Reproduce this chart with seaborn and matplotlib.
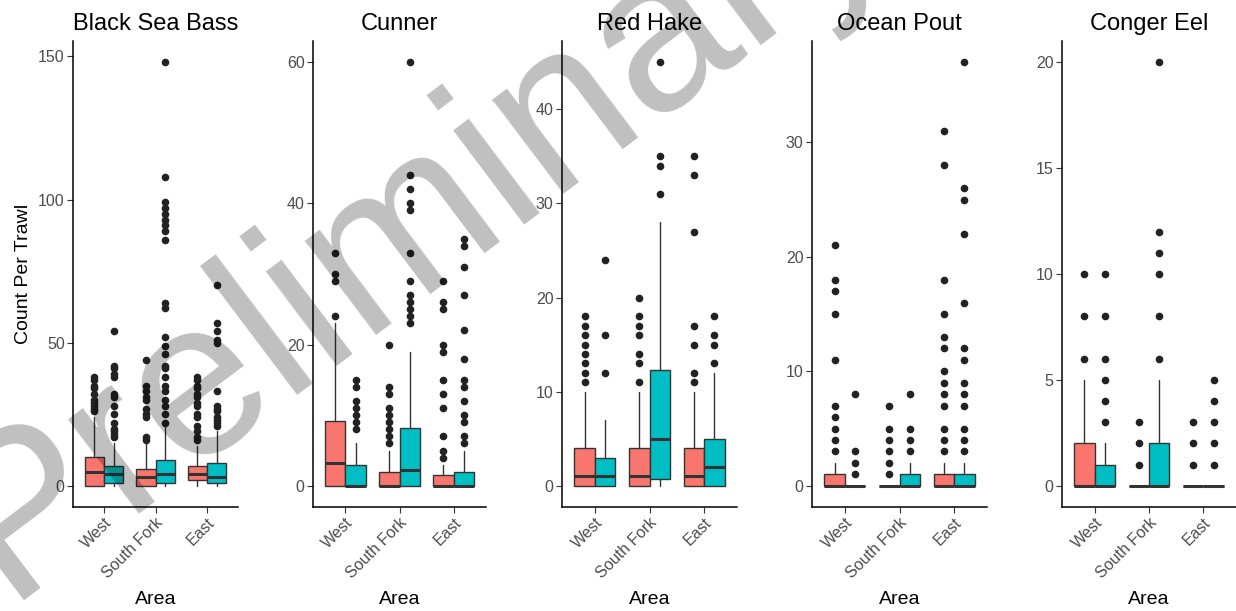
import matplotlib
matplotlib.use("Agg")
import matplotlib.pyplot as plt
import seaborn as sns

# ── Data (box stats; order per species:
#    West/red, West/teal, South Fork/red, South Fork/teal, East/red, East/teal)
AREAS = ["West", "South Fork", "East"]
SPECIES = ["Black Sea Bass", "Cunner", "Red Hake", "Ocean Pout", "Conger Eel"]

bsb_q1 = [0, 1, 0, 1, 2, 1]
bsb_med = [5, 4, 3, 4, 4, 3]
bsb_q3 = [10, 7, 6, 9, 7, 8]
bsb_whi = [24, 15, 15, 21, 14, 19]
bsb_fliers = [
    [26, 27, 28, 29, 30, 32, 34, 35, 37, 38],
    [17, 18, 19, 20, 22, 25, 28, 31, 32, 38, 39, 41, 42, 54],
    [16, 17, 24, 25, 27, 30, 31, 33, 35, 44],
    [22, 25, 28, 30, 33, 35, 38, 41, 42, 46, 49, 52, 62, 64,
     86, 89, 91, 93, 95, 97, 99, 108, 148],
    [16, 17, 19, 21, 24, 25, 28, 29, 31, 32, 34, 35, 37, 38],
    [21, 22, 23, 24, 26, 27, 28, 33, 50, 51, 54, 57, 70],
]

cun_q1 = [0, 0, 0, 0, 0, 0]
cun_med = [3.3, 0, 0, 2.2, 0, 0]
cun_q3 = [9.25, 3, 2, 8.2, 1.5, 2]
cun_whi = [23, 6, 5, 19, 3, 5]
cun_fliers = [
    [24, 29, 30, 33],
    [8, 9, 10, 11, 12, 14, 15],
    [6, 7, 8, 9, 10, 11, 13, 14, 20],
    [23, 24, 25, 26, 27, 29, 33, 39, 40, 42, 44, 60],
    [4, 5, 7, 11, 13, 15, 19, 20, 25, 26, 29],
    [6, 7, 9, 10, 12, 14, 15, 18, 22, 27, 31, 34, 35],
]

rh_q1 = [0, 0, 0, 0.75, 0, 0]
rh_med = [1, 1, 1, 5, 1, 2]
rh_q3 = [4, 3, 4, 12.25, 4, 5]
rh_whi = [10, 7, 10, 28, 10, 12]
rh_fliers = [
    [11, 12, 13, 14, 15, 16, 17, 18],
    [12, 16, 24],
    [11, 13, 14, 16, 17, 18, 20],
    [31, 34, 35, 45],
    [11, 12, 15, 17, 27, 33, 35],
    [13, 15, 16, 18],
]

op_q1 = [0, 0, 0, 0, 0, 0]
op_med = [0, 0, 0, 0, 0, 0]
op_q3 = [1, 0, 0, 1, 1, 1]
op_whi = [2, 0, 0, 2, 2, 2]
op_fliers = [
    [3, 4, 5, 6, 7, 11, 15, 17, 18, 21],
    [1, 2, 3, 8],
    [1, 2, 3, 4, 5, 7],
    [3, 4, 5, 8],
    [3, 4, 5, 7, 8, 9, 10, 12, 13, 15, 18, 28, 31],
    [3, 4, 5, 7, 8, 9, 11, 12, 16, 22, 25, 26, 37],
]

ce_q1 = [0, 0, 0, 0, 0, 0]
ce_med = [0, 0, 0, 0, 0, 0]
ce_q3 = [2, 1, 0, 2, 0, 0]
ce_whi = [5, 2, 0, 5, 0, 0]
ce_fliers = [
    [6, 8, 10],
    [3, 4, 5, 6, 8, 10],
    [1, 2, 3],
    [6, 8, 10, 11, 12, 20],
    [1, 2, 3],
    [1, 2, 3, 4, 5],
]

Y_TICKS = [
    [0, 50, 100, 150],
    [0, 20, 40, 60],
    [0, 10, 20, 30, 40],
    [0, 10, 20, 30],
    [0, 5, 10, 15, 20],
]

# axes extents in pixels (left, right) for a 1236x611 canvas
PANEL_X = [(73, 238), (313, 486), (562, 737), (812, 987), (1062, 1236)]
PANEL_TOP, PANEL_BOTTOM = 41, 507

W, H = 1236, 611
sns.set_theme(style="ticks")
plt.rcParams["font.family"] = ["Liberation Sans", "DejaVu Sans"]
colors = sns.color_palette(["#F8766D", "#00BFC4"])
EDGE = "#333333"

fig = plt.figure(figsize=(W / 100, H / 100), dpi=100)

panels = [
    (bsb_q1, bsb_med, bsb_q3, bsb_whi, bsb_fliers),
    (cun_q1, cun_med, cun_q3, cun_whi, cun_fliers),
    (rh_q1, rh_med, rh_q3, rh_whi, rh_fliers),
    (op_q1, op_med, op_q3, op_whi, op_fliers),
    (ce_q1, ce_med, ce_q3, ce_whi, ce_fliers),
]

dodge = 0.1875
box_w = 0.375

for k, (name, (q1, med, q3, whi, fliers)) in enumerate(zip(SPECIES, panels)):
    x0, x1 = PANEL_X[k]
    ax = fig.add_axes([x0 / W, 1 - PANEL_BOTTOM / H, (x1 - x0) / W,
                       (PANEL_BOTTOM - PANEL_TOP) / H])
    stats, pos, fc = [], [], []
    for j in range(6):
        stats.append(dict(q1=q1[j], med=med[j], q3=q3[j], whislo=0,
                          whishi=whi[j], fliers=fliers[j]))
        area = j // 2
        pos.append(area + (-dodge if j % 2 == 0 else dodge))
        fc.append(colors[j % 2])
    bp = ax.bxp(stats, positions=pos, widths=box_w, patch_artist=True,
                showcaps=False, manage_ticks=False,
                boxprops=dict(edgecolor=EDGE, linewidth=1.0),
                medianprops=dict(color=EDGE, linewidth=2.2, solid_capstyle="butt"),
                whiskerprops=dict(color=EDGE, linewidth=1.0),
                flierprops=dict(marker="o", markerfacecolor="#222222",
                                markeredgecolor="none", markersize=5.5))
    for patch, c in zip(bp["boxes"], fc):
        patch.set_facecolor(c)

    ymax = max(max(f) for f in fliers)
    pad = 0.05 * ymax
    ax.set_ylim(-pad, ymax + pad)
    ax.set_xlim(-0.6, 2.6)
    ax.set_yticks(Y_TICKS[k])
    ax.set_xticks(range(3))
    ax.set_xticklabels(AREAS, rotation=45, ha="right", va="top",
                       rotation_mode="anchor")
    ax.tick_params(axis="both", colors="#333333", labelcolor="#4D4D4D",
                   labelsize=11.5, length=4, width=0.8, pad=2)
    for side in ["left", "bottom"]:
        ax.spines[side].set_color("black")
        ax.spines[side].set_linewidth(1.1)
    sns.despine(ax=ax)
    ax.set_title(name, fontsize=17, color="black", pad=8)
    ax.set_xlabel("Area", fontsize=14, color="black")
    if k == 0:
        ax.set_ylabel("Count Per Trawl", fontsize=14, color="black", labelpad=4)
    else:
        ax.set_ylabel("")
    ax.xaxis.set_label_coords(0.5, -(600 - PANEL_BOTTOM) / (PANEL_BOTTOM - PANEL_TOP),
                              transform=ax.transAxes)
    ax.xaxis.label.set_va("center")

# watermark
fig.text(6 / W, 1 - 600 / H, "Preliminary", rotation=37, fontsize=160,
         color="black", alpha=0.25, ha="left", va="baseline",
         rotation_mode="anchor", zorder=10)

fig.savefig("out.png", dpi=100)
